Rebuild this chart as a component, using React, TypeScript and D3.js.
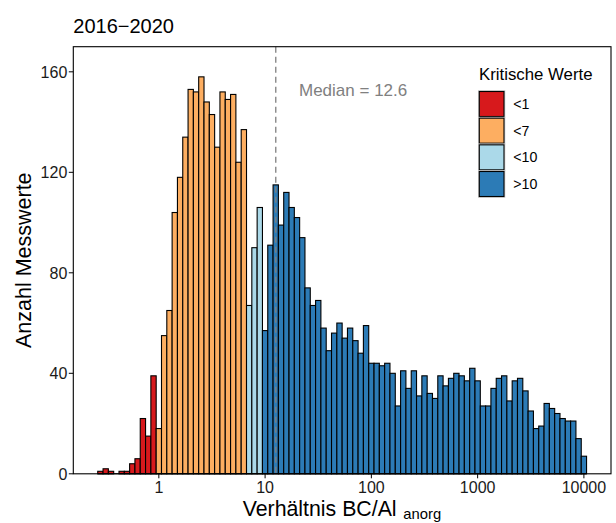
import React from "react";
import * as d3 from "d3";

const plotTitle = "2016−2020";
const yTitle = "Anzahl Messwerte";
const xTitleMain = "Verhältnis BC/Al";
const xTitleSub = "anorg";
const legendTitle = "Kritische Werte";
const categories = ["<1", "<7", "<10", ">10"];
const thresholds = [1, 7, 10];
const colors = ["#d7191c", "#fdae61", "#abd9e9", "#2c7bb6"];
const binStartLog = -0.575;
const binWidthLog = 0.05;
const counts = [
  1, 2, 1, 0, 1, 1, 4, 6, 22, 15, 39,
  18, 55, 65, 104, 118, 134, 153, 152, 158, 148, 143, 130, 152, 149, 151, 124, 137,
  67, 90, 106,
  57, 91, 115, 99, 112, 106, 102, 94, 74, 67, 69, 58, 49, 56, 60, 54, 58, 53, 48, 59,
  44, 44, 43, 44, 40, 27, 41, 34, 41, 31,
  39, 32, 30, 39, 35, 38, 40, 39, 37, 42, 37, 27, 27, 34, 38, 39, 29, 37, 38, 33,
  25, 18, 19, 28, 26, 24, 22, 21, 21, 14, 7,
];
const median = 12.6;
const xTicks = [1, 10, 100, 1000, 10000];
const yTicks = [0, 40, 80, 120, 160];

const W = 616;
const H = 523;
const panel = { left: 73.3, right: 611, top: 46.7, bottom: 473.8 };
const FONT = "'Liberation Sans', Arial, Helvetica, sans-serif";

export default function App() {
  const x = d3
    .scaleLog()
    .domain([Math.pow(10, -0.805), Math.pow(10, 4.255)])
    .range([panel.left, panel.right]);
  const y = d3.scaleLinear().domain([0, 170]).range([panel.bottom, panel.top]);

  const bins = counts.map((c, i) => {
    const lo = Math.pow(10, binStartLog + binWidthLog * i);
    const hi = Math.pow(10, binStartLog + binWidthLog * (i + 1));
    const mid = Math.pow(10, binStartLog + binWidthLog * (i + 0.5));
    let cat = thresholds.findIndex((t) => mid < t - 1e-9);
    if (cat < 0) cat = thresholds.length;
    return { lo, hi, c, cat };
  });

  const keyX = 479.3;
  const keyY0 = 91.5;
  const keyStep = 26.67;
  const keyW = 24.7;
  const keyH = 25;

  return (
    <svg
      width={W}
      height={H}
      style={{ position: "absolute", left: 0, top: 0, background: "#fff" }}
      fontFamily={FONT}
    >
      <rect x={0} y={0} width={W} height={H} fill="#fff" />
      {/* bars */}
      {bins.map((b, i) =>
        b.c > 0 ? (
          <rect
            key={i}
            x={x(b.lo)}
            y={y(b.c)}
            width={x(b.hi) - x(b.lo)}
            height={y(0) - y(b.c)}
            fill={colors[b.cat]}
            stroke="#000"
            strokeWidth={1.1}
          />
        ) : null
      )}
      {/* baseline of bars */}
      <line
        x1={x(bins[0].lo)}
        x2={x(bins[bins.length - 1].hi)}
        y1={y(0)}
        y2={y(0)}
        stroke="#000"
        strokeWidth={1.1}
      />
      {/* median line */}
      <line
        x1={x(median)}
        x2={x(median)}
        y1={panel.top}
        y2={panel.bottom}
        stroke="#7f7f7f"
        strokeWidth={1.3}
        strokeDasharray="6 4"
      />
      <text x={299} y={95.7} fontSize={17} fill="#808080">
        Median = {median}
      </text>
      {/* panel border */}
      <rect
        x={panel.left}
        y={panel.top}
        width={panel.right - panel.left}
        height={panel.bottom - panel.top}
        fill="none"
        stroke="#000"
        strokeWidth={1.1}
      />
      {/* y axis */}
      {yTicks.map((t) => (
        <g key={t}>
          <line x1={panel.left - 4.5} x2={panel.left} y1={y(t)} y2={y(t)} stroke="#000" strokeWidth={1} />
          <text x={panel.left - 6} y={y(t)} dy="0.36em" textAnchor="end" fontSize={16} fill="#1a1a1a">
            {t}
          </text>
        </g>
      ))}
      {/* x axis */}
      {xTicks.map((t) => (
        <g key={t}>
          <line x1={x(t)} x2={x(t)} y1={panel.bottom} y2={panel.bottom + 4.5} stroke="#000" strokeWidth={1} />
          <text x={x(t)} y={492.8} textAnchor="middle" fontSize={16} fill="#1a1a1a">
            {t}
          </text>
        </g>
      ))}
      {/* axis titles */}
      <text
        transform={`translate(${30.5},${(panel.top + panel.bottom) / 2}) rotate(-90)`}
        textAnchor="middle"
        fontSize={21.5}
        fill="#000"
      >
        {yTitle}
      </text>
      <text x={242.7} y={516} fontSize={21.3} fill="#000">
        {xTitleMain}
        <tspan x={403.3} y={518.5} fontSize={14.8}>
          {xTitleSub}
        </tspan>
      </text>
      {/* title */}
      <text x={73.3} y={33.3} fontSize={20} fill="#000">
        {plotTitle}
      </text>
      {/* legend */}
      <text x={479} y={80} fontSize={16.8} fill="#000">
        {legendTitle}
      </text>
      {categories.map((c, k) => {
        const ky = keyY0 + keyStep * k;
        return (
          <g key={c}>
            <rect
              x={keyX - 0.8}
              y={ky - 0.8}
              width={keyW + 1.6}
              height={keyH + 1.6}
              fill="none"
              stroke="#c8c8c8"
              strokeWidth={1}
            />
            <rect x={keyX} y={ky} width={keyW} height={keyH} fill={colors[k]} stroke="#000" strokeWidth={1.1} />
            <text x={513.3} y={ky + keyH / 2} dy="0.36em" fontSize={14.2} fill="#000">
              {c}
            </text>
          </g>
        );
      })}
    </svg>
  );
}
